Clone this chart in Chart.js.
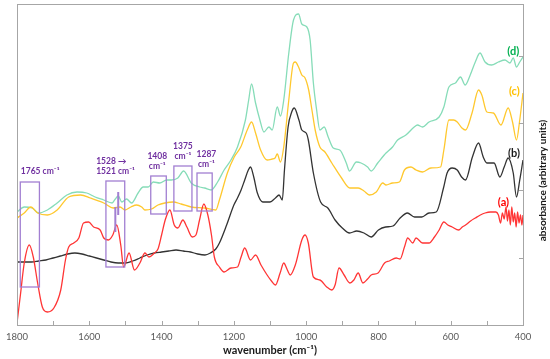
<!DOCTYPE html>
<html>
<head>
<meta charset="utf-8">
<script src="https://cdn.jsdelivr.net/npm/chart.js@4.4.1/dist/chart.umd.min.js"></script>
<style>
html,body{margin:0;padding:0;background:#fff;}
#c{display:block;}
</style>
</head>
<body>
<canvas id="c" width="550" height="359"></canvas>
<script>
// ---------- data (wavenumber in cm-1, absorbance in arbitrary units) ----------
const aWave = [1800,1790,1780,1766,1755,1743,1730,1716,1698,1679,1666,1657,1643,1629,1616,1602,1588,1570,1560,1547,1535,1524,1513,1505,1490,1475,1460,1446,1435,1420,1410,1400,1390,1377,1365,1355,1341,1330,1315,1305,1295,1283,1272,1262,1254,1240,1227,1208,1190,1180,1170,1154,1140,1125,1108,1096,1085,1072,1062,1052,1044,1030,1012,1003,994,980,962,943,929,920,909,895,879,868,856,843,830,820,801,783,770,751,740,728,719,705,696,678,660,645,632,619,608,596,578,568,559,545,532,518,505,490,475,468,462,457,452,447,443,439,435,431,427,423,419,415,411,407,403,400];
const aAbs = [0.02,0.32,0.62,0.80,0.68,0.42,0.18,0.13,0.17,0.35,0.65,0.78,0.82,0.87,1.02,1.03,0.98,0.95,0.87,0.85,0.90,1.00,0.80,0.58,0.72,0.55,0.62,0.72,0.68,0.72,0.76,0.90,1.05,1.15,1.00,0.97,1.05,0.98,0.88,0.90,1.05,1.21,1.10,0.90,0.68,0.58,0.53,0.57,0.58,0.68,0.77,0.65,0.70,0.60,0.50,0.44,0.40,0.52,0.62,0.55,0.50,0.60,0.85,0.90,0.82,0.48,0.45,0.38,0.35,0.40,0.57,0.50,0.42,0.45,0.52,0.42,0.46,0.50,0.52,0.62,0.64,0.67,0.66,0.78,0.87,0.82,0.87,0.82,0.82,0.88,0.95,1.03,1.00,0.98,0.95,0.98,1.00,1.04,1.07,1.10,1.12,1.13,1.13,1.10,1.02,1.12,1.06,1.18,1.04,1.15,1.00,1.18,1.03,1.12,0.98,1.13,1.02,1.10,1.00,1.10];

const bWave = [1800,1780,1760,1740,1720,1700,1680,1660,1640,1620,1600,1580,1560,1540,1520,1500,1480,1460,1440,1420,1400,1380,1360,1340,1320,1300,1280,1265,1250,1240,1220,1200,1190,1180,1170,1160,1154,1145,1135,1120,1100,1085,1075,1066,1060,1050,1040,1033,1020,1012,1000,994,980,960,940,920,900,880,860,840,820,800,780,760,740,720,700,680,660,640,620,610,596,582,570,559,540,523,510,500,480,464,452,441,427,418,409,400];
const bAbs = [0.63,0.63,0.63,0.64,0.65,0.67,0.69,0.71,0.72,0.71,0.69,0.67,0.65,0.63,0.62,0.62,0.64,0.67,0.70,0.72,0.73,0.74,0.75,0.74,0.73,0.71,0.70,0.72,0.76,0.82,1.00,1.20,1.27,1.35,1.45,1.55,1.58,1.48,1.32,1.23,1.23,1.27,1.30,1.25,1.55,1.98,2.13,2.17,2.05,1.95,1.92,1.85,1.52,1.23,1.17,1.05,0.97,0.92,0.94,0.92,0.88,0.95,0.98,0.99,1.07,1.12,1.08,1.08,1.12,1.13,1.37,1.52,1.57,1.55,1.48,1.45,1.68,1.82,1.68,1.62,1.62,1.48,1.58,1.67,1.52,1.28,1.45,1.65];

const cWave = [1800,1780,1762,1743,1716,1689,1657,1624,1597,1560,1533,1515,1501,1485,1469,1455,1446,1428,1410,1391,1368,1346,1318,1281,1250,1240,1218,1199,1181,1163,1151,1140,1126,1108,1094,1086,1080,1071,1062,1048,1035,1030,1021,1012,1003,993,984,975,962,948,929,902,879,856,840,825,806,788,779,761,742,728,710,696,678,655,628,619,605,592,582,569,559,541,523,514,500,482,461,441,429,418,409,400];
const cAbs = [1.07,1.12,1.18,1.12,1.10,1.15,1.28,1.30,1.27,1.22,1.17,1.18,1.15,1.18,1.20,1.18,1.15,1.16,1.20,1.22,1.23,1.21,1.18,1.17,1.15,1.25,1.52,1.68,1.78,1.95,2.03,1.92,1.75,1.65,1.66,1.67,1.71,1.63,1.78,2.25,2.62,2.63,2.58,2.50,2.47,2.35,2.15,1.95,1.78,1.73,1.62,1.47,1.37,1.37,1.34,1.30,1.33,1.42,1.40,1.42,1.43,1.55,1.58,1.55,1.53,1.57,1.58,1.75,2.05,2.05,2.03,1.97,1.95,2.12,2.35,2.30,2.13,2.12,2.00,2.17,2.03,1.85,2.05,2.32];

const dWave = [1800,1780,1758,1740,1716,1689,1662,1634,1607,1584,1560,1537,1528,1520,1510,1497,1483,1465,1451,1437,1423,1405,1386,1373,1355,1339,1318,1295,1281,1263,1245,1227,1208,1190,1168,1159,1151,1140,1128,1117,1103,1094,1080,1071,1062,1048,1035,1021,1012,998,989,980,971,962,950,939,925,907,889,880,861,848,830,820,802,784,779,761,747,724,701,692,678,660,632,619,605,587,573,560,546,532,519,505,487,468,450,436,427,418,409,400];
const dAbs = [1.13,1.18,1.17,1.12,1.15,1.22,1.30,1.33,1.32,1.28,1.25,1.22,1.26,1.29,1.23,1.26,1.22,1.32,1.38,1.38,1.43,1.42,1.45,1.45,1.47,1.54,1.42,1.38,1.37,1.35,1.43,1.55,1.65,1.78,2.05,2.25,2.41,2.22,2.05,1.93,1.98,1.95,2.18,2.09,2.25,2.72,3.05,3.11,3.01,2.98,2.85,2.42,2.15,1.95,1.98,1.88,1.77,1.75,1.62,1.54,1.63,1.62,1.58,1.54,1.62,1.70,1.72,1.78,1.85,1.90,1.98,2.00,1.98,2.03,2.08,2.18,2.38,2.42,2.48,2.40,2.50,2.63,2.72,2.63,2.60,2.63,2.65,2.62,2.67,2.58,2.63,2.68];

// axis ticks
const waveTicks = [1800,1700,1600,1500,1400,1300,1200,1100,1000,900,800,700,600,500,400];
const waveLabels = [1800,1600,1400,1200,1000,800,600,400];
const absTicks = [0.673,1.346,2.019,2.692];

// series labels: text, wavenumber, absorbance
const seriesNames = ['(a)','(b)','(c)','(d)'];
const seriesLabelWave = [454,425,424,427];
const seriesLabelAbs = [1.23,1.72,2.34,2.74];

// band annotations: boxes [from, to] in cm-1 and [low, high] absorbance
const bandBoxWave = [[1791,1738],[1554,1502],[1430,1387],[1366,1316],[1302,1260]];
const bandBoxAbs  = [[0.38,1.43],[0.58,1.44],[1.11,1.49],[1.14,1.59],[1.14,1.52]];
const shiftLineWave = [1528,1520];
const shiftLineAbs = [[0.93,1.18],[1.10,1.33]];
// band texts: lines, wavenumber anchor, absorbance of first line, alignment
const bandText = [
  {lines:['1765 cm\u207B\u00B9'], w:1736, a:1.54, align:'center'},
  {lines:['1528 \u2192','1521 cm\u207B\u00B9'], w:1581, a:1.64, align:'left'},
  {lines:['1408','cm\u207B\u00B9'], w:1412, a:1.69, align:'center'},
  {lines:['1375','cm\u207B\u00B9'], w:1341, a:1.79, align:'center'},
  {lines:['1287','cm\u207B\u00B9'], w:1276, a:1.71, align:'center'}
];

const lineColors = ['#ff3535','#333333','#ffc82e','#86dcb8'];
const labelColors = ['#ff0000','#1a1a1a','#ffc000','#00b050'];
const FONT = 'Lato, "Open Sans", "Liberation Sans", sans-serif';

function pts(w, a){ return w.map((x,i)=>({x:x, y:a[i]})); }

const framePlugin = {
  id:'frame',
  afterDatasetsDraw(chart){
    const ctx = chart.ctx, ca = chart.chartArea;
    const xs = chart.scales.x, ys = chart.scales.y;
    ctx.save();
    // frame
    ctx.strokeStyle = '#a6a6a6'; ctx.lineWidth = 1;
    ctx.strokeRect(Math.round(ca.left)+0.5, Math.round(ca.top)+0.5, Math.round(ca.right-ca.left), Math.round(ca.bottom-ca.top));
    // inward tick marks
    ctx.beginPath();
    waveTicks.forEach(v=>{ const px = Math.round(xs.getPixelForValue(v))+0.5; ctx.moveTo(px, ca.bottom); ctx.lineTo(px, ca.bottom-4); });
    absTicks.forEach(v=>{ const py = Math.round(ys.getPixelForValue(v))+0.5; ctx.moveTo(ca.right, py); ctx.lineTo(ca.right-4, py); });
    ctx.stroke();

    // band boxes
    ctx.strokeStyle = '#a27fd2'; ctx.lineWidth = 1.3;
    bandBoxWave.forEach((bw,i)=>{
      const x1 = xs.getPixelForValue(bw[0]), x2 = xs.getPixelForValue(bw[1]);
      const y1 = ys.getPixelForValue(bandBoxAbs[i][1]), y2 = ys.getPixelForValue(bandBoxAbs[i][0]);
      ctx.strokeRect(x1, y1, x2-x1, y2-y1);
    });
    ctx.lineWidth = 2;
    ctx.beginPath();
    shiftLineWave.forEach((w,i)=>{
      const px = xs.getPixelForValue(w);
      ctx.moveTo(px, ys.getPixelForValue(shiftLineAbs[i][0]));
      ctx.lineTo(px, ys.getPixelForValue(shiftLineAbs[i][1]));
    });
    ctx.stroke();

    // band texts
    ctx.fillStyle = '#7030a0';
    ctx.font = 'bold 8.5px ' + FONT;
    ctx.textBaseline = 'middle';
    bandText.forEach(t=>{
      ctx.textAlign = t.align;
      const px = xs.getPixelForValue(t.w);
      const py = ys.getPixelForValue(t.a);
      t.lines.forEach((ln,j)=> ctx.fillText(ln, px, py + j*10.5));
    });

    // series labels
    ctx.font = 'bold 11px ' + FONT;
    ctx.textAlign = 'center';
    seriesNames.forEach((n,i)=>{
      ctx.fillStyle = labelColors[i];
      ctx.fillText(n, xs.getPixelForValue(seriesLabelWave[i]), ys.getPixelForValue(seriesLabelAbs[i]));
    });

    // y-axis title (reads bottom to top)
    ctx.save();
    ctx.translate(ca.right + 20, (ca.top + ca.bottom)/2 + 16);
    ctx.rotate(-Math.PI/2);
    ctx.fillStyle = '#1a1a1a';
    ctx.font = 'bold 10px ' + FONT;
    ctx.textAlign = 'center';
    ctx.fillText('absorbance (arbitrary units)', 0, 0);
    ctx.restore();
    ctx.restore();
  }
};

new Chart(document.getElementById('c'), {
  type:'line',
  data:{
    datasets:[
      {label:'(a)', data:pts(aWave,aAbs), borderColor:lineColors[0]},
      {label:'(b)', data:pts(bWave,bAbs), borderColor:lineColors[1]},
      {label:'(c)', data:pts(cWave,cAbs), borderColor:lineColors[2]},
      {label:'(d)', data:pts(dWave,dAbs), borderColor:lineColors[3]}
    ]
  },
  options:{
    responsive:false,
    animation:false,
    devicePixelRatio:1,
    layout:{padding:{left:13, top:4, right:27, bottom:0}},
    elements:{
      point:{radius:0},
      line:{borderWidth:1.3, cubicInterpolationMode:'monotone', fill:false}
    },
    plugins:{legend:{display:false}, tooltip:{enabled:false}},
    scales:{
      x:{
        type:'linear', reverse:true, min:400, max:1800,
        grid:{display:false, drawTicks:false},
        border:{display:false},
        ticks:{
          stepSize:100, autoSkip:false, maxRotation:0, padding:6,
          color:'#595959', font:{family:FONT, size:9.5},
          callback:(v)=> waveLabels.includes(v) ? String(v) : ''
        },
        title:{display:true, text:'wavenumber (cm\u207B\u00B9)', color:'#1a1a1a',
               font:{family:FONT, size:11, weight:'bold'}, padding:{top:2, bottom:2}},
        afterFit:(s)=>{ s.height = 34; }
      },
      y:{
        type:'linear', display:false, min:0, max:3.21
      }
    }
  },
  plugins:[framePlugin]
});
</script>
</body>
</html>
